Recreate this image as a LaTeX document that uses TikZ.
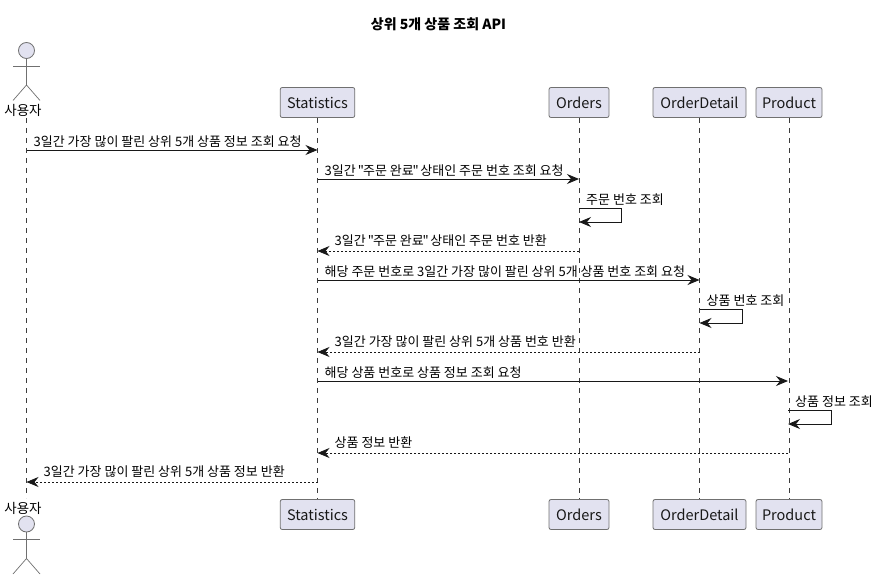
\documentclass[tikz,border=0pt]{standalone}
\usepackage{fontspec}
\setmainfont{Noto Sans CJK KR}
\newfontfamily\krfont{Noto Sans CJK KR}
\usetikzlibrary{arrows.meta}
\definecolor{partfill}{HTML}{E2E2F0}
\definecolor{partline}{HTML}{707070}
\definecolor{inkline}{HTML}{181818}
\newcommand{\qtopen}{\kern-0.9pt"\kern-0.9pt}
\newcommand{\qtclose}{\kern-1.3pt"\kern-1.2pt}
\tikzset{
	part/.style={draw=partline,fill=partfill,rounded corners=2pt,line width=0.8pt,minimum height=30pt,inner sep=0pt,font=\fontsize{14.5}{16}\selectfont,text=inkline},
	lifeline/.style={draw=inkline!85,line width=0.45pt,dash pattern=on 5pt off 5pt},
	call/.style={draw=inkline,line width=0.9pt,-{Stealth[length=12pt,width=10pt,inset=4pt]}},
	back/.style={call,line width=0.7pt,dash pattern=on 2pt off 2pt},
	msg/.style={anchor=base west,inner sep=0pt,font=\krfont\fontsize{13}{15}\selectfont,text=black},
	stick/.style={draw=partline,line width=0.7pt},
	head/.style={circle,draw=partline,fill=partfill,line width=0.8pt,minimum size=16pt,inner sep=0pt},
}
\begin{document}
\begin{tikzpicture}[x=1pt,y=-1pt]
	\useasboundingbox (0,0) rectangle (877,580);
	\node[font=\bfseries\fontsize{14}{16}\selectfont] (title) at (438.5,24) {상위 5개 상품 조회 API};
	% top and bottom boxes
	\foreach \name/\lab/\xc/\w in {stat/Statistics/317.5/74.5,ord/Orders/579/60,det/OrderDetail/699.5/93,prod/Product/789/66}{
			\node[part,minimum width=\w pt] (\name T) at (\xc,102.5) {\lab};
			\node[part,minimum width=\w pt] (\name B) at (\xc,514.5) {\lab};
			\draw[lifeline] (\name T) -- (\name B);
		}
	% actor
	\foreach \pos/\hy/\ly in {T/50.5/110.5,B/524/508}{
			\node[head] (head\pos) at (26.5,\hy) {};
			\coordinate (neck\pos) at (26.5,\hy+8);
			\coordinate (hip\pos) at (26.5,\hy+34.5);
			\coordinate (armL\pos) at (13,\hy+15.5);
			\coordinate (armR\pos) at (40,\hy+15.5);
			\coordinate (legL\pos) at (13,\hy+50);
			\coordinate (legR\pos) at (40,\hy+50);
			\draw[stick] (neck\pos) -- (hip\pos);
			\draw[stick] (armL\pos) -- (armR\pos);
			\draw[stick] (legL\pos) -- (hip\pos) -- (legR\pos);
			\node[font=\fontsize{13.5}{15}\selectfont,inner sep=0pt] (user\pos) at (23,\ly) {사용자};
		}
	\coordinate (userTop) at (26.5,118);
	\coordinate (userEnd) at (26.5,498);
	\draw[lifeline] (userTop) -- (userEnd);
	% message end points
	\foreach \name/\xc in {u/26.5,s/317.5,o/579,d/699.5,p/788}{
			\foreach \yc in {150,179,208,222,251,280,309,323,352,381,410,424,453,482}{
					\coordinate (\name\yc) at (\xc,\yc);
				}
		}
	% calls and returns
	\draw[call] (u150) -- (s150);
	\node[msg] (m1) at (33.5,146.7) {3일간 가장 많이 팔린 상위 5개 상품 정보 조회 요청};
	\draw[call] (s179) -- (o179);
	\node[msg] (m2) at (324.5,175.7) {3일간 \qtopen 주문 완료\qtclose{} 상태인 주문 번호 조회 요청};
	\draw[call] (o208) -- ++(42.5,0) |- (o222);
	\node[msg] (m3) at (586,204.7) {주문 번호 조회};
	\draw[back] (o251) -- (s251);
	\node[msg] (m4) at (334.5,245.7) {3일간 \qtopen 주문 완료\qtclose{} 상태인 주문 번호 반환};
	\draw[call] (s280) -- (d280);
	\node[msg] (m5) at (324.5,276.7) {해당 주문 번호로 3일간 가장 많이 팔린 상위 5개 상품 번호 조회 요청};
	\draw[call] (d309) -- ++(42.5,0) |- (d323);
	\node[msg] (m6) at (706.5,305.7) {상품 번호 조회};
	\draw[back] (d352) -- (s352);
	\node[msg] (m7) at (334.5,346.7) {3일간 가장 많이 팔린 상위 5개 상품 번호 반환};
	\draw[call] (s381) -- (p381);
	\node[msg] (m8) at (324.5,377.7) {해당 상품 번호로 상품 정보 조회 요청};
	\draw[call] (p410) -- ++(43,0) |- (p424);
	\node[msg] (m9) at (795,406.7) {상품 정보 조회};
	\draw[back] (p453) -- (s453);
	\node[msg] (m10) at (334.5,447.7) {상품 정보 반환};
	\draw[back] (s482) -- (u482);
	\node[msg] (m11) at (43.5,476.7) {3일간 가장 많이 팔린 상위 5개 상품 정보 반환};
\end{tikzpicture}
\end{document}
